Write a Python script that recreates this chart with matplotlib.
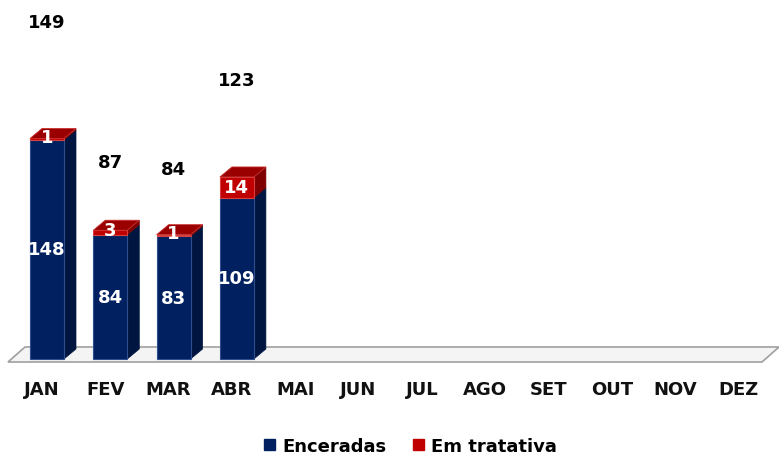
import matplotlib.pyplot as plt
from matplotlib.patches import Polygon, Patch

months = ['JAN', 'FEV', 'MAR', 'ABR', 'MAI', 'JUN', 'JUL', 'AGO', 'SET', 'OUT', 'NOV', 'DEZ']
enceradas = [148, 84, 83, 109]
em_tratativa = [1, 3, 1, 14]
totais = [149, 87, 84, 123]

plt.rcParams['font.family'] = ['DejaVu Sans']
plt.rcParams['font.weight'] = 'bold'

W, H = 779, 456
fig = plt.figure(figsize=(W / 100, H / 100), dpi=100)
ax = fig.add_axes([0, 86 / H, 1, 370 / H])
ax2 = ax.twinx()

px = 63.3          # pixels per category
sy = 1.48          # pixels per unit (bars)
sy2 = 2.265        # pixels per unit (totals)
ax.set_xlim(-47 / px, (W - 47) / px)
ax.set_ylim(-10 / sy, 360 / sy)
ax2.set_ylim(-10 / sy2, 360 / sy2)

bw = 34 / px
dx = 12 / px
dy = 10 / sy

navy, navy_side = '#002060', '#001640'
red, red_top, red_side = '#C00000', '#9A0000', '#7E0000'

# floor
floor = Polygon([(-39 / px, -3 / sy), (715 / px, -3 / sy), (732 / px, 12 / sy), (-22 / px, 12 / sy)],
                closed=True, facecolor='#F4F4F4', edgecolor='#A0A0A0', lw=1.2, zorder=1)
ax.add_patch(floor)

x = list(range(len(enceradas)))
ax.bar(x, enceradas, width=bw, color=navy, edgecolor='#2E4E8E', lw=0.8, zorder=3)
ax.bar(x, em_tratativa, bottom=enceradas, width=bw, color=red, edgecolor='#D84040', lw=0.8, zorder=3)


def side(xc, y0, y1, c):
    r = xc + bw / 2
    ax.add_patch(Polygon([(r, y0), (r + dx, y0 + dy), (r + dx, y1 + dy), (r, y1)],
                         closed=True, facecolor=c, edgecolor=c, lw=0.5, zorder=2.9))


for i in x:
    e, t = enceradas[i], em_tratativa[i]
    side(i, 0, e, navy_side)
    side(i, e, e + t, red_side)
    top = e + t
    ax.add_patch(Polygon([(i - bw / 2, top), (i + bw / 2, top), (i + bw / 2 + dx, top + dy),
                          (i - bw / 2 + dx, top + dy)],
                         closed=True, facecolor=red_top, edgecolor='#C83030', lw=0.6, zorder=3.1))
    ax.text(i, e / 2, str(e), color='white', ha='center', va='center', fontsize=13,
            fontweight='bold', zorder=5)
    ax.text(i, e + t / 2 + (1.5 if t < 5 else 0), str(t), color='white', ha='center', va='center',
            fontsize=13, fontweight='bold', zorder=5)
    ax2.text(i, totais[i], str(totais[i]), color='black', ha='center', va='center', fontsize=13,
             fontweight='bold')

ax.set_xticks([i - 5 / px for i in range(len(months))])
ax.set_xticklabels(months, fontsize=13, fontweight='bold', color='#111111')
ax.tick_params(axis='x', length=0, pad=8)
ax.set_yticks([])
ax2.set_yticks([])
for a in (ax, ax2):
    for s in a.spines.values():
        s.set_visible(False)

handles = [Patch(color=navy, label='Enceradas'), Patch(color=red, label='Em tratativa')]
fig.legend(handles=handles, loc='center', bbox_to_anchor=(0.527, 9 / H), ncol=2, frameon=False,
           handlelength=0.6, handleheight=0.6, handletextpad=0.4, columnspacing=1.5,
           prop={'weight': 'bold', 'size': 13})

fig.savefig('out.png', dpi=100)
